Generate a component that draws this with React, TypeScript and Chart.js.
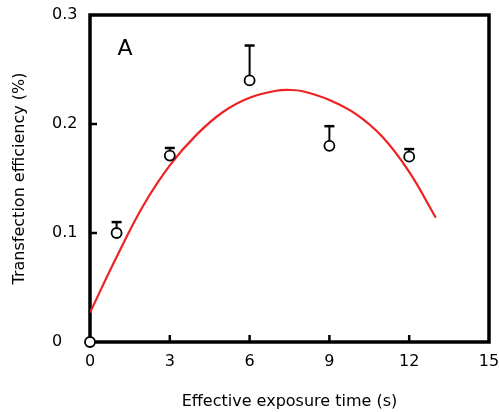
import React, { useEffect, useRef } from "react";
import { Chart, registerables } from "chart.js";

Chart.register(...registerables);

// Measured points
const pointX = [0, 1, 3, 6, 9, 12];
const pointY = [0, 0.1, 0.171, 0.24, 0.18, 0.17];
// Upper error bar tops (null = none)
const errTop: (number | null)[] = [null, 0.11, 0.178, 0.272, 0.198, 0.177];

// Fitted curve
const curveX = [0, 1, 2, 3, 4, 5, 6, 7, 7.5, 8, 9, 10, 11, 12, 13];
const curveY = [0.027, 0.078, 0.125, 0.162, 0.19, 0.211, 0.224, 0.2305, 0.2312, 0.23, 0.222, 0.209, 0.188, 0.156, 0.114];

const xTicks = [0, 3, 6, 9, 12, 15];
const yTicks = [0, 0.1, 0.2, 0.3];
const yTickLabels = ["0", "0.1", "0.2", "0.3"];

const panelLabel = "A";
const xTitle = "Effective exposure time (s)";
const yTitle = "Transfection efficiency (%)";

const FONT = "'DejaVu Sans', sans-serif";

export default function App() {
  const ref = useRef<HTMLCanvasElement | null>(null);

  useEffect(() => {
    document.body.style.margin = "0";
    const canvas = ref.current;
    if (!canvas) return;

    const framePlugin = {
      id: "frame",
      beforeDatasetsDraw(chart: any) {
        const { ctx, chartArea, scales } = chart;
        const { left, right, top, bottom } = chartArea;
        ctx.save();
        ctx.strokeStyle = "#000";
        ctx.lineWidth = 3.5;
        ctx.lineJoin = "miter";
        ctx.strokeRect(left, top, right - left, bottom - top);
        // inward ticks
        ctx.lineWidth = 2.5;
        ctx.beginPath();
        xTicks.forEach((v) => {
          if (v === 0 || v === 15) return;
          const px = scales.x.getPixelForValue(v);
          ctx.moveTo(px, bottom);
          ctx.lineTo(px, bottom - 7);
        });
        yTicks.forEach((v) => {
          if (v === 0 || v === 0.3) return;
          const py = scales.y.getPixelForValue(v);
          ctx.moveTo(left, py);
          ctx.lineTo(left + 7, py);
        });
        ctx.stroke();
        // error bars
        ctx.lineWidth = 2;
        pointX.forEach((xv, i) => {
          const t = errTop[i];
          if (t == null) return;
          const px = scales.x.getPixelForValue(xv);
          const py = scales.y.getPixelForValue(pointY[i]);
          const pt = scales.y.getPixelForValue(t);
          ctx.beginPath();
          ctx.moveTo(px, py);
          ctx.lineTo(px, pt);
          ctx.stroke();
          ctx.save();
          ctx.lineWidth = 2.5;
          ctx.beginPath();
          ctx.moveTo(px - 5, pt);
          ctx.lineTo(px + 5, pt);
          ctx.stroke();
          ctx.restore();
        });
        // panel label
        ctx.fillStyle = "#000";
        ctx.font = `22px ${FONT}`;
        ctx.textAlign = "center";
        ctx.textBaseline = "alphabetic";
        ctx.fillText(panelLabel, left + 35, top + 40);
        ctx.restore();
      },
    };

    const zeroPad = (s: any) => {
      s.paddingLeft = 0;
      s.paddingRight = 0;
      s.paddingTop = 0;
      s.paddingBottom = 0;
    };

    const chart = new Chart(canvas, {
      type: "scatter",
      data: {
        datasets: [
          {
            label: "data",
            data: pointX.map((x, i) => ({ x, y: pointY[i] })),
            pointRadius: 5,
            pointHoverRadius: 5,
            pointBackgroundColor: "#fff",
            pointBorderColor: "#000",
            pointBorderWidth: 1.8,
            showLine: false,
            clip: false as any,
          },
          {
            label: "fit",
            type: "line" as any,
            data: curveX.map((x, i) => ({ x, y: curveY[i] })),
            borderColor: "#ee2222",
            borderWidth: 2.2,
            pointRadius: 0,
            tension: 0.4,
            fill: false,
          },
        ],
      },
      options: {
        responsive: false,
        animation: false,
        events: [],
        layout: { padding: { top: 15, right: 10, left: 52, bottom: 0 } },
        plugins: { legend: { display: false }, tooltip: { enabled: false } },
        scales: {
          x: {
            type: "linear",
            min: 0,
            max: 15,
            afterBuildTicks: (s: any) => {
              s.ticks = xTicks.map((v) => ({ value: v }));
            },
            afterFit: (s: any) => {
              s.height = 70;
              zeroPad(s);
            },
            grid: { display: false, drawTicks: false },
            border: { display: false },
            ticks: {
              color: "#000",
              font: { family: FONT, size: 16 },
              padding: 10,
              maxRotation: 0,
              callback: (v: any) => String(v),
            },
            title: {
              display: true,
              text: xTitle,
              color: "#000",
              font: { family: FONT, size: 16 },
              padding: { top: 0, bottom: 1 },
            },
          },
          y: {
            type: "linear",
            min: 0,
            max: 0.3,
            afterBuildTicks: (s: any) => {
              s.ticks = yTicks.map((v) => ({ value: v }));
            },
            afterFit: (s: any) => {
              s.width = 38;
              zeroPad(s);
            },
            grid: { display: false, drawTicks: false },
            border: { display: false },
            ticks: {
              color: "#000",
              font: { family: FONT, size: 16 },
              crossAlign: "far",
              padding: 12,
              callback: (v: any) => {
                const i = yTicks.findIndex((t) => Math.abs(t - v) < 1e-9);
                return i >= 0 ? yTickLabels[i] : "";
              },
            },
            title: {
              display: true,
              text: yTitle,
              color: "#000",
              font: { family: FONT, size: 16 },
              padding: { top: -41.6, bottom: 0 },
            },
          },
        },
      },
      plugins: [framePlugin],
    } as any);

    return () => chart.destroy();
  }, []);

  return (
    <div style={{ position: "absolute", left: 0, top: 0, width: 499, height: 412, background: "#fff" }}>
      <canvas ref={ref} width={499} height={412} style={{ display: "block" }} />
    </div>
  );
}
